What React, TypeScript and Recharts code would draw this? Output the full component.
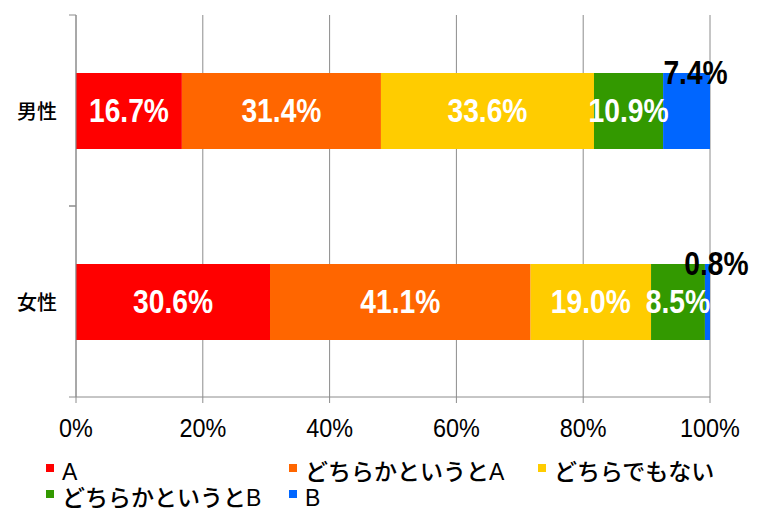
import React from "react";
import {
  BarChart,
  Bar,
  XAxis,
  YAxis,
  CartesianGrid,
  LabelList,
} from "recharts";

const categories = ["男性", "女性"];
const seriesNames = ["A", "どちらかというとA", "どちらでもない", "どちらかというとB", "B"];
const seriesKeys = ["a", "leanA", "neutral", "leanB", "b"];
const seriesColors = ["#FF0000", "#FF6600", "#FFCC00", "#339900", "#0066FF"];
const maleValues = [16.7, 31.4, 33.6, 10.9, 7.4];
const femaleValues = [30.6, 41.1, 19.0, 8.5, 0.8];
const xTicks = [0, 20, 40, 60, 80, 100];

const data = categories.map((name, i) => {
  const vals = i === 0 ? maleValues : femaleValues;
  const row: Record<string, string | number> = { name };
  seriesKeys.forEach((k, j) => {
    row[k] = vals[j];
  });
  return row;
});

const numFont = "'Liberation Sans', Arial, sans-serif";
const jpFont = "'Liberation Sans', 'Noto Sans CJK JP', sans-serif";
const gray = "#8c8c8c";

// condensed text: the original uses a narrow face, so squeeze horizontally
const Narrow = ({ cx, cy, fill, size, children }: any) => (
  <text
    transform={`translate(${cx},${cy}) scale(0.83,1)`}
    x={0}
    y={0}
    textAnchor="middle"
    dominantBaseline="central"
    fill={fill}
    fontSize={size}
    fontWeight="bold"
    fontFamily={numFont}
  >
    {children}
  </text>
);

const YTick = (props: any) => {
  const { x, y, payload } = props;
  const half = payload && payload.offset ? payload.offset : 95.5;
  return (
    <g>
      <line x1={x + 12} x2={x + 19} y1={y - half} y2={y - half} stroke={gray} />
      <line x1={x + 12} x2={x + 19} y1={y + half} y2={y + half} stroke={gray} />
      <text
        x={x}
        y={y}
        textAnchor="end"
        dominantBaseline="central"
        fontSize={20}
        fontFamily="'Noto Sans CJK JP', sans-serif"
        fontWeight={500}
        fill="#000"
      >
        {payload.value}
      </text>
    </g>
  );
};

const XTick = (props: any) => {
  const { x, y, payload } = props;
  return (
    <text
      transform={`translate(${x},${y + 13}) scale(0.9,1)`}
      x={0}
      y={0}
      textAnchor="middle"
      dominantBaseline="central"
      fill="#000"
      fontSize={26}
      fontFamily={numFont}
    >
      {payload.value}%
    </text>
  );
};

const InsideLabel = (props: any) => {
  const { x, y, width, height, value } = props;
  return (
    <Narrow cx={x + width / 2} cy={y + height / 2} fill="#fff" size={34}>
      {value.toFixed(1)}%
    </Narrow>
  );
};

const TopLabel = (props: any) => {
  const { x, y, width, height, value } = props;
  const top = Math.min(y, y + height);
  return (
    <Narrow cx={x + width / 2 + 9} cy={top} fill="#000" size={34}>
      {value.toFixed(1)}%
    </Narrow>
  );
};

const legendCols = [38, 281, 530];

export default function App() {
  return (
    <div style={{ position: "relative", width: 750, height: 506 }}>
      <BarChart
        width={750}
        height={506}
        data={data}
        layout="vertical"
        barSize={76}
        margin={{ top: 7, right: 48, bottom: 77, left: 0 }}
      >
        <CartesianGrid horizontal={false} stroke={gray} />
        <XAxis
          type="number"
          domain={[0, 100]}
          ticks={xTicks}
          stroke={gray}
          tickSize={6}
          tickMargin={12}
          height={40}
          tick={<XTick />}
        />
        <YAxis
          type="category"
          dataKey="name"
          width={68}
          stroke={gray}
          tickLine={false}
          tickSize={7}
          tickMargin={12}
          tick={<YTick />}
        />
        {seriesKeys.map((k, i) => (
          <Bar
            key={k}
            dataKey={k}
            name={seriesNames[i]}
            stackId="s"
            fill={seriesColors[i]}
            isAnimationActive={false}
          >
            <LabelList
              dataKey={k}
              content={i === seriesKeys.length - 1 ? <TopLabel /> : <InsideLabel />}
            />
          </Bar>
        ))}
      </BarChart>
      {seriesNames.map((n, i) => {
        const row = i < 3 ? 0 : 1;
        const col = i < 3 ? i : i - 3;
        return (
          <div
            key={n}
            style={{
              position: "absolute",
              left: legendCols[col],
              top: 451 + row * 26,
              display: "flex",
              alignItems: "flex-start",
              fontFamily: jpFont,
              fontSize: 23,
              fontWeight: 500,
              lineHeight: "26px",
              color: "#000",
              whiteSpace: "nowrap",
            }}
          >
            <span
              style={{
                display: "inline-block",
                width: 8,
                height: 8,
                marginTop: 5,
                marginRight: 8,
                background: seriesColors[i],
              }}
            />
            <span>{n}</span>
          </div>
        );
      })}
    </div>
  );
}
